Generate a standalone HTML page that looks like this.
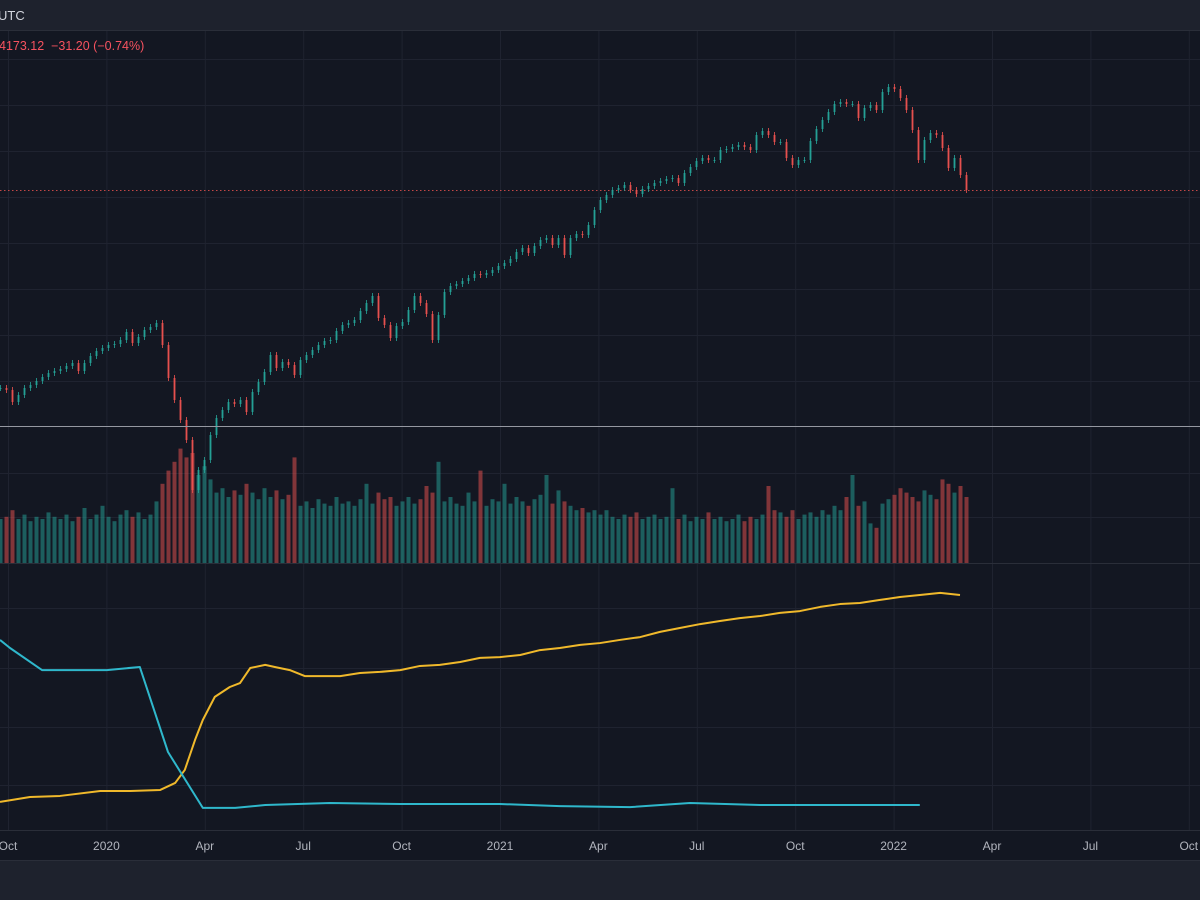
<!DOCTYPE html>
<html><head><meta charset="utf-8">
<style>
html,body{margin:0;padding:0;background:#131722;width:1200px;height:900px;overflow:hidden;font-family:"Liberation Sans",sans-serif}
svg{display:block}
</style></head>
<body>
<svg id="chart" width="1200" height="900" xmlns="http://www.w3.org/2000/svg">
  <rect x="0" y="0" width="1200" height="900" fill="#131722"/>
  <rect x="0" y="0" width="1200" height="30" fill="#1e222d"/>
  <line x1="0" y1="30.5" x2="1200" y2="30.5" stroke="#2a2e39"/>
  <text x="-2" y="20" fill="#d1d4dc" font-size="13">UTC</text>
  <g id="grid"></g>
  <line x1="0" y1="190.5" x2="1200" y2="190.5" stroke="#ef5350" stroke-width="1" stroke-dasharray="1.5,2.5" opacity="0.8"/>
  <g id="volume"></g>
  <g id="candles"></g>
  <line x1="0" y1="426.5" x2="1200" y2="426.5" stroke="#9598a1" stroke-width="1"/>
  <line x1="0" y1="563.5" x2="1200" y2="563.5" stroke="#2a2e39" stroke-width="1"/>
  <g id="indicator"></g>
  <rect x="0" y="830" width="1200" height="30" fill="#131722"/>
  <line x1="0" y1="830.5" x2="1200" y2="830.5" stroke="#2a2e39"/>
  <g id="timelabels"></g>
  <rect x="0" y="861" width="1200" height="39" fill="#1e222d"/>
  <line x1="0" y1="860.5" x2="1200" y2="860.5" stroke="#2a2e39"/>
  <text x="-1" y="50" fill="#f7525f" font-size="12.5" xml:space="preserve">4173.12  −31.20 (−0.74%)</text>
</svg>
<script>
const NS="http://www.w3.org/2000/svg";
// Time axis labels and their month offsets (months since Oct 2019)
const tickLabels=["Oct","2020","Apr","Jul","Oct","2021","Apr","Jul","Oct","2022","Apr","Jul","Oct"];
const tickMonths=[0,3,6,9,12,15,18,21,24,27,30,33,36];
// closes (every 4 trading days)
const closes=[2985,2973,2901,2943,2985,3003,3027,3051,3075,3087,3099,3117,3135,3087,3135,3177,3207,3225,3243,3249,3273,3321,3255,3291,3333,3351,3375,3243,3045,2913,2793,2673,2373,2493,2553,2703,2805,2853,2901,2889,2913,2841,2961,3021,3081,3183,3105,3141,3123,3063,3153,3183,3213,3243,3267,3273,3327,3363,3375,3393,3447,3495,3537,3405,3363,3285,3357,3381,3453,3537,3495,3429,3273,3423,3561,3597,3609,3627,3645,3669,3663,3675,3693,3717,3735,3759,3801,3825,3795,3837,3873,3885,3843,3885,3783,3885,3909,3903,3963,4053,4113,4143,4173,4185,4203,4173,4149,4179,4197,4215,4227,4239,4245,4215,4275,4311,4347,4365,4353,4353,4413,4419,4431,4443,4431,4413,4503,4527,4503,4461,4461,4365,4323,4353,4353,4467,4539,4593,4641,4689,4701,4689,4689,4605,4665,4683,4653,4761,4791,4779,4725,4653,4533,4353,4473,4515,4503,4425,4305,4365,4263,4173];
// volume in billions
const volumes=[2.0,2.1,2.4,2.0,2.2,1.9,2.1,2.0,2.3,2.1,2.0,2.2,1.9,2.1,2.5,2.0,2.2,2.6,2.1,1.9,2.2,2.4,2.1,2.3,2.0,2.2,2.8,3.6,4.2,4.6,5.2,4.8,5.0,4.0,4.4,3.8,3.2,3.4,3.0,3.3,3.1,3.6,3.2,2.9,3.4,3.0,3.3,2.9,3.1,4.8,2.6,2.8,2.5,2.9,2.7,2.6,3.0,2.7,2.8,2.6,2.9,3.6,2.7,3.2,2.9,3.0,2.6,2.8,3.0,2.7,2.9,3.5,3.2,4.6,2.8,3.0,2.7,2.6,3.2,2.8,4.2,2.6,2.9,2.8,3.6,2.7,3.0,2.8,2.6,2.9,3.1,4.0,2.7,3.3,2.8,2.6,2.4,2.5,2.3,2.4,2.2,2.4,2.1,2.0,2.2,2.1,2.3,2.0,2.1,2.2,2.0,2.1,3.4,2.0,2.2,1.9,2.1,2.0,2.3,2.0,2.1,1.9,2.0,2.2,1.9,2.1,2.0,2.2,3.5,2.4,2.3,2.1,2.4,2.0,2.2,2.3,2.1,2.4,2.2,2.6,2.4,3.0,4.0,2.6,2.8,1.8,1.6,2.7,2.9,3.1,3.4,3.2,3.0,2.8,3.3,3.1,2.9,3.8,3.6,3.2,3.5,3.0];
// indicator series (0-100 scale), time in candle index units
const yellowIdx=[0,5,10,16.7,21.7,26.7,29.2,30.8,32.5,33.8,35.8,38.3,40,41.7,44.2,45.8,48.3,50.8,53.3,56.7,60,63.3,66.7,70,73.3,76.7,80,83.3,86.7,90,93.3,96.7,100,103.3,106.7,110,113.3,116.7,120,123.3,126.7,130,133.3,136.7,140,143.3,146.7,150,153.3,156.7,160];
const yellowVals=[10.8,12.7,13.1,15.0,15.0,15.4,18.1,23.1,34.6,42.3,51.2,55.0,56.5,62.3,63.5,62.7,61.5,59.2,59.2,59.2,60.4,60.8,61.5,63.1,63.5,64.6,66.2,66.5,67.3,69.2,70.0,71.2,71.9,73.1,74.2,76.2,77.7,79.2,80.4,81.5,82.3,83.5,84.2,85.8,86.9,87.3,88.5,89.6,90.4,91.2,90.4];
const cyanIdx=[0,1.67,7,17.8,23.3,28,33.8,39.2,44.2,55,66.7,83.3,93.3,105,115,126.7,153.3];
const cyanVals=[73.1,70.0,61.5,61.5,62.7,30.0,8.5,8.5,9.6,10.4,10.0,10.0,9.2,8.8,10.4,9.6,9.6];

const xIdx=i=>i*6;
const xMonth=m=>8+m*32.8;
const yPrice=p=>190-(p-4173)/6;
const yVol=v=>563-v*22;
const yInd=v=>830-v*2.6;

function mk(tag,attrs,parent){const e=document.createElementNS(NS,tag);for(const k in attrs)e.setAttribute(k,attrs[k]);parent.appendChild(e);return e;}

const grid=document.getElementById('grid');
tickMonths.forEach(m=>{
  const l=mk('line',{x1:xMonth(m)+0.5,x2:xMonth(m)+0.5,y1:31,y2:830,stroke:'#1f2330'},grid);
  
  
});
[59,105,151,197,243,289,335,381,473,517,608,668,727,785].forEach(y=>{
  const l=mk('line',{x1:0,x2:1200,y1:y+0.5,y2:y+0.5,stroke:'#1f2330'},grid);
  
  
});

const tl=document.getElementById('timelabels');
tickLabels.forEach((t,i)=>{
  const e=mk('text',{x:xMonth(tickMonths[i]),y:850,fill:'#b2b5be','font-size':12,'text-anchor':'middle'},tl);
  e.textContent=t;
  
  
});

const cg=document.getElementById('candles'),vg=document.getElementById('volume');
closes.forEach((c,i)=>{
  const o=i>0?closes[i-1]:c;
  const up=c>=o;
  const col=up?'#26a69a':'#ef5350';
  const x=xIdx(i);
  const yt=yPrice(Math.max(o,c)),yb=yPrice(Math.min(o,c));
  const w=mk('line',{x1:x+0.5,x2:x+0.5,y1:yt-3,y2:yb+3,stroke:col,'stroke-width':1,opacity:0.8},cg);
  
  
  const b=mk('rect',{x:x-0.5,y:yt,width:2,height:Math.max(1,yb-yt),fill:col,opacity:0.8},cg);
  
  
  const vy=yVol(volumes[i]);
  const vb=mk('rect',{x:x-1.5,y:vy,width:4,height:563-vy,fill:col,opacity:0.5},vg);
  
  
});

const ig=document.getElementById('indicator');
const yl=mk('polyline',{points:yellowIdx.map((t,i)=>xIdx(t)+','+yInd(yellowVals[i])).join(' '),fill:'none',stroke:'#f0b92b','stroke-width':2,'stroke-linejoin':'round'},ig);


const cl=mk('polyline',{points:cyanIdx.map((t,i)=>xIdx(t)+','+yInd(cyanVals[i])).join(' '),fill:'none',stroke:'#2fb8cc','stroke-width':2,'stroke-linejoin':'round'},ig);


</script>
</body></html>
